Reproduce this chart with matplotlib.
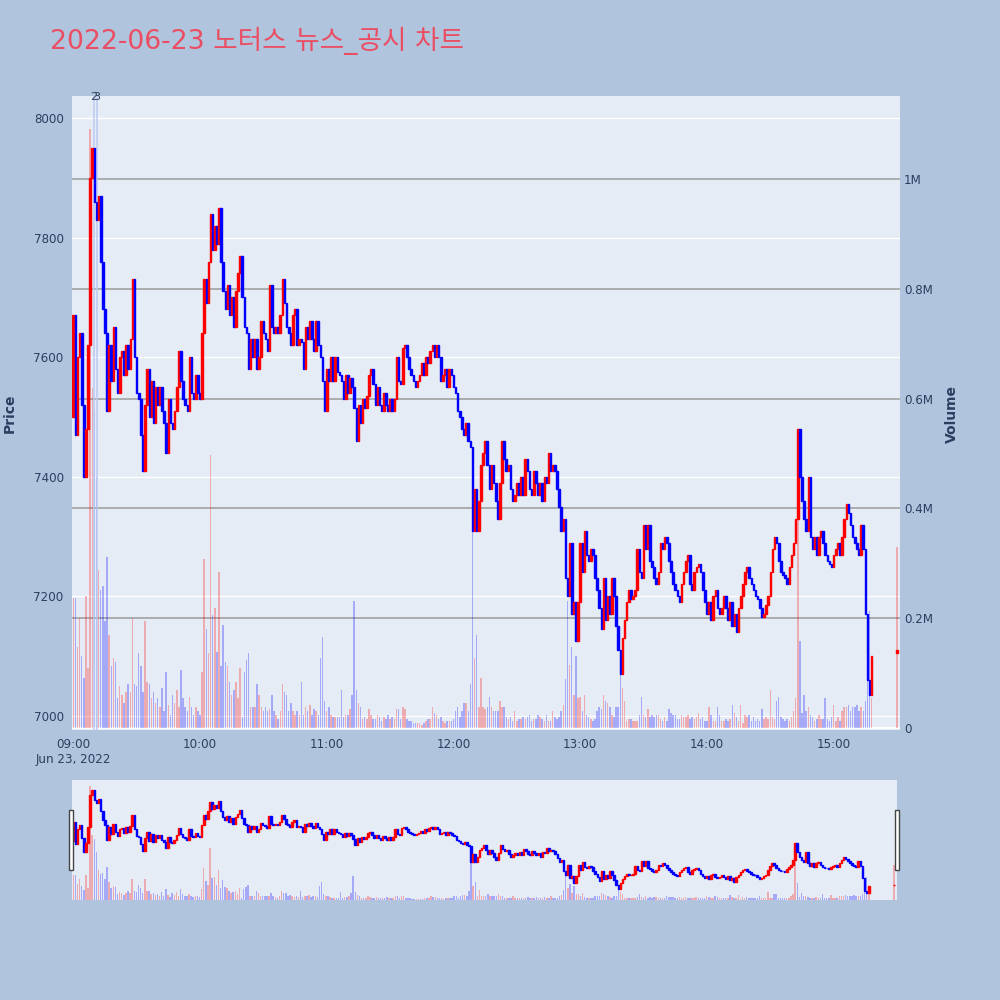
import numpy as np
import matplotlib
matplotlib.use("Agg")
import matplotlib.pyplot as plt
from matplotlib.patches import Rectangle
from matplotlib.transforms import blended_transform_factory

# minute candles, 09:00 = minute 0
first_open = 7500
close_prices = [
    7670, 7470, 7600, 7640, 7520, 7400, 7480, 7620, 7900, 7950,
    7860, 7830, 7870, 7760, 7680, 7640, 7510, 7620, 7560, 7650,
    7580, 7540, 7600, 7610, 7570, 7620, 7580, 7630, 7730, 7600,
    7540, 7530, 7470, 7410, 7520, 7580, 7500, 7560, 7490, 7550,
    7520, 7550, 7510, 7490, 7440, 7530, 7490, 7480, 7510, 7550,
    7610, 7560, 7530, 7520, 7510, 7600, 7540, 7530, 7570, 7540,
    7530, 7640, 7730, 7690, 7760, 7840, 7780, 7820, 7790, 7850,
    7760, 7710, 7680, 7720, 7670, 7700, 7650, 7710, 7740, 7770,
    7700, 7650, 7640, 7580, 7630, 7600, 7630, 7580, 7600, 7660,
    7640, 7630, 7610, 7720, 7650, 7640, 7650, 7640, 7670, 7730,
    7690, 7650, 7640, 7620, 7670, 7680, 7620, 7630, 7625, 7580,
    7650, 7630, 7660, 7630, 7610, 7660, 7620, 7600, 7560, 7510,
    7580, 7560, 7600, 7560, 7600, 7575, 7570, 7560, 7530, 7570,
    7540, 7565, 7550, 7515, 7460, 7520, 7490, 7530, 7515, 7535,
    7570, 7580, 7555, 7520, 7550, 7520, 7510, 7540, 7520, 7510,
    7530, 7510, 7530, 7600, 7560, 7555, 7615, 7620, 7600, 7580,
    7570, 7560, 7550, 7560, 7570, 7590, 7570, 7600, 7590, 7610,
    7620, 7600, 7620, 7600, 7560, 7570, 7580, 7550, 7580, 7570,
    7550, 7540, 7510, 7500, 7480, 7470, 7490, 7460, 7450, 7310,
    7380, 7310, 7360, 7420, 7440, 7460, 7420, 7380, 7420, 7390,
    7360, 7330, 7390, 7460, 7430, 7410, 7420, 7380, 7360, 7370,
    7390, 7370, 7400, 7370, 7430, 7410, 7380, 7370, 7410, 7390,
    7370, 7390, 7360, 7400, 7390, 7440, 7410, 7420, 7410, 7380,
    7350, 7310, 7330, 7230, 7200, 7290, 7170, 7190, 7125, 7190,
    7290, 7240, 7310, 7270, 7260, 7280, 7270, 7230, 7210, 7180,
    7145, 7230, 7160, 7200, 7170, 7230, 7200, 7150, 7110, 7070,
    7130, 7160, 7190, 7210, 7195, 7200, 7210, 7280, 7240, 7230,
    7320, 7280, 7320, 7260, 7250, 7230, 7220, 7240, 7290, 7280,
    7300, 7290, 7260, 7240, 7220, 7210, 7200, 7190, 7220, 7240,
    7260, 7270, 7220, 7210, 7240, 7250, 7255, 7240, 7210, 7190,
    7170, 7190, 7160, 7200, 7210, 7180, 7170, 7180, 7200, 7180,
    7160, 7190, 7150, 7170, 7140, 7180, 7200, 7220, 7240, 7250,
    7230, 7220, 7210, 7200, 7195, 7180, 7165, 7170, 7185, 7200,
    7240, 7280, 7300, 7290, 7260, 7240, 7235, 7230, 7220, 7250,
    7270, 7290, 7330, 7480, 7400, 7360, 7330, 7310, 7400, 7300,
    7280, 7300, 7270, 7300, 7310, 7290, 7270, 7260, 7255, 7250,
    7270, 7280, 7290, 7270, 7300, 7330, 7355, 7340, 7320, 7300,
    7290, 7280, 7270, 7320, 7280, 7170, 7060, 7035, 7100,
]
# volume in thousands of shares
volumes_k = [
    236, 236, 147, 200, 132, 91, 240, 110, 1090, 620,
    580, 457, 288, 251, 259, 195, 312, 169, 113, 128,
    121, 54, 76, 61, 46, 65, 80, 65, 200, 80,
    76, 136, 113, 65, 194, 83, 80, 54, 65, 46,
    54, 39, 72, 31, 102, 42, 24, 61, 46, 69,
    39, 106, 54, 39, 31, 57, 39, 24, 39, 31,
    24, 102, 308, 180, 136, 498, 206, 218, 139, 285,
    113, 188, 121, 113, 83, 61, 69, 83, 54, 110,
    20, 102, 124, 136, 39, 39, 39, 80, 61, 39,
    31, 39, 31, 35, 61, 31, 24, 16, 31, 80,
    65, 61, 31, 46, 31, 24, 31, 24, 83, 24,
    39, 31, 42, 24, 35, 31, 24, 128, 165, 50,
    31, 39, 24, 20, 20, 20, 20, 69, 20, 24,
    24, 35, 61, 232, 69, 46, 39, 16, 20, 16,
    35, 24, 16, 16, 24, 20, 13, 20, 16, 24,
    16, 20, 16, 35, 35, 16, 39, 35, 16, 13,
    13, 9, 9, 9, 9, 6, 9, 13, 16, 16,
    39, 28, 24, 16, 20, 13, 9, 13, 13, 13,
    16, 31, 39, 20, 31, 46, 46, 31, 80, 366,
    128, 169, 39, 91, 39, 35, 39, 57, 39, 31,
    31, 31, 50, 39, 39, 20, 16, 20, 13, 31,
    13, 16, 16, 20, 16, 20, 24, 13, 16, 16,
    24, 20, 16, 13, 24, 13, 13, 31, 20, 16,
    20, 31, 42, 89, 232, 115, 147, 61, 132, 54,
    57, 31, 61, 24, 20, 16, 13, 16, 31, 39,
    35, 61, 50, 46, 39, 24, 20, 39, 39, 102,
    72, 50, 13, 16, 16, 13, 13, 13, 24, 57,
    24, 20, 35, 20, 24, 20, 24, 24, 16, 13,
    20, 13, 35, 28, 24, 24, 16, 16, 24, 20,
    20, 24, 16, 20, 16, 20, 28, 16, 20, 13,
    13, 39, 24, 13, 13, 39, 24, 13, 13, 16,
    13, 16, 42, 28, 20, 13, 42, 9, 24, 20,
    24, 13, 20, 13, 16, 13, 35, 16, 20, 16,
    69, 20, 16, 50, 57, 20, 16, 13, 16, 13,
    20, 31, 54, 540, 158, 28, 61, 31, 39, 24,
    20, 13, 16, 24, 16, 16, 54, 16, 13, 20,
    42, 13, 20, 13, 31, 39, 39, 42, 31, 39,
    39, 42, 31, 39, 31, 50, 158, 214, 54,
]
# closing auction at 15:30
auction_minute = 390
auction_open, auction_close, auction_volume_k = 7105, 7110, 330

news_minutes = [9.8, 11.1]
news_labels = ["2", "3"]

hour_ticks = [0, 60, 120, 180, 240, 300, 360]
hour_labels = ["09:00\nJun 23, 2022", "10:00", "11:00", "12:00", "13:00", "14:00", "15:00"]
price_ticks = [7000, 7200, 7400, 7600, 7800, 8000]
volume_ticks_k = [0, 200, 400, 600, 800, 1000]
volume_tick_labels = ["0", "0.2M", "0.4M", "0.6M", "0.8M", "1M"]

BG = "#B0C4DE"
PLOT_BG = "#E5ECF6"
TXT = "#2a3f5f"
X_RANGE = (-0.6, 391.4)
PRICE_RANGE = (6976.6, 8036.8)
VOL_RANGE = (-3.6, 1151)

closes = np.array(close_prices + [auction_close], dtype=float)
opens = np.array([first_open] + close_prices[:-1] + [auction_open], dtype=float)
minutes = np.append(np.arange(len(close_prices)), auction_minute)
vols = np.array(volumes_k + [auction_volume_k], dtype=float)
up = closes > opens
candle_colors = np.where(up, "#FF0000", "#0000FF")
vol_colors = [(1, 0, 0, 0.28) if u else (0, 0, 1, 0.28) for u in up]


def draw_series(ax_v, ax_p):
    ax_v.bar(minutes, vols, width=0.7, color=vol_colors, zorder=2)
    ax_p.bar(minutes, np.abs(closes - opens), bottom=np.minimum(opens, closes),
             width=0.75, color=candle_colors, edgecolor=candle_colors,
             linewidth=1.0, zorder=3)
    ax_v.set_xlim(*X_RANGE)
    ax_v.set_ylim(*VOL_RANGE)
    ax_p.set_ylim(*PRICE_RANGE)
    for a in (ax_v, ax_p):
        for s in a.spines.values():
            s.set_visible(False)


fig = plt.figure(figsize=(10, 10), dpi=100)
fig.patch.set_facecolor(BG)

# main chart: volume axis underneath, price axis on top
ax_vol = fig.add_axes([0.072, 0.27, 0.828, 0.634])
ax_vol.set_facecolor(PLOT_BG)
ax_price = ax_vol.twinx()

price_tf = blended_transform_factory(ax_vol.transAxes, ax_price.transData)
for p in price_ticks:
    ax_vol.plot([0, 1], [p, p], transform=price_tf, color="white", lw=1.0, zorder=0.5)
for v in volume_ticks_k[1:]:
    ax_vol.axhline(v, color="#9a9a9a", lw=1.1, zorder=0.6)
ax_vol.axhline(0, color="white", lw=1.6, zorder=0.7)

draw_series(ax_vol, ax_price)

for m in news_minutes:
    ax_price.axvline(m, color="#bccaf2", lw=1.1, zorder=1)
top_tf = blended_transform_factory(ax_price.transData, ax_price.transAxes)
for m, lab in zip(news_minutes, news_labels):
    ax_price.text(m, 0.998, lab, transform=top_tf, ha="center", va="center",
                  fontsize=8, color=TXT, clip_on=False)

ax_price.yaxis.tick_left()
ax_price.set_yticks(price_ticks)
ax_price.tick_params(axis="y", length=0, pad=6, labelsize=8.6, labelcolor=TXT)
ax_vol.yaxis.tick_right()
ax_vol.set_yticks(volume_ticks_k, volume_tick_labels)
ax_vol.tick_params(axis="y", length=0, pad=3, labelsize=8.6, labelcolor=TXT)
ax_vol.set_xticks(hour_ticks, hour_labels)
ax_vol.tick_params(axis="x", length=0, pad=6, labelsize=8.6, labelcolor=TXT)
for t in ax_vol.get_xticklabels():
    t.set_linespacing(1.15)

fig.text(0.010, 0.587, "Price", rotation=90, ha="center", va="center",
         fontsize=10, fontweight="bold", color=TXT)
fig.text(0.952, 0.586, "Volume", rotation=90, ha="center", va="center",
         fontsize=10, fontweight="bold", color=TXT)

fig.text(0.050, 0.951, "2022-06-23 노터스 뉴스_공시 차트", ha="left", va="baseline",
         fontsize=19.2, color="#EB4D62", family=["DejaVu Sans", "Noto Sans CJK KR"])

# range slider
sl_vol = fig.add_axes([0.072, 0.10, 0.825, 0.12])
sl_vol.set_facecolor(PLOT_BG)
sl_price = sl_vol.twinx()
draw_series(sl_vol, sl_price)
for a in (sl_vol, sl_price):
    a.set_xticks([])
    a.set_yticks([])

for x0 in (0.0693, 0.8953):
    fig.patches.append(Rectangle((x0, 0.130), 0.004, 0.060, transform=fig.transFigure,
                                 facecolor="white", edgecolor="#444444", lw=1.0))

fig.savefig("out.png", dpi=100, facecolor=BG)
